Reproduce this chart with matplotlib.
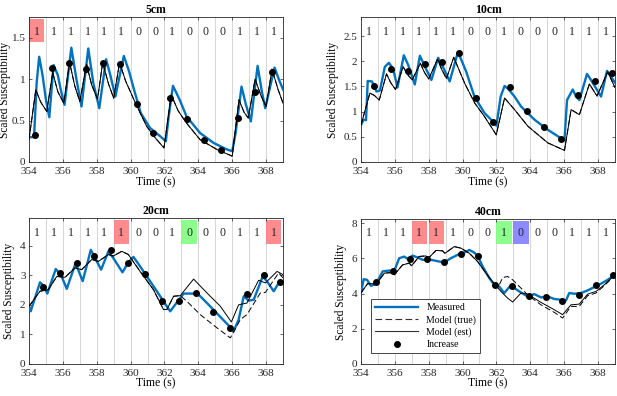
import numpy as np
import matplotlib
matplotlib.use('Agg')
import matplotlib.pyplot as plt
from matplotlib.patches import Rectangle
from matplotlib.lines import Line2D

plt.rcParams['font.family'] = ['Liberation Serif', 'DejaVu Serif']

# bit sequence shown above each panel, one per second
bits = [1, 1, 1, 1, 1, 1, 0, 0, 1, 0, 0, 0, 1, 1, 1]
bit_starts = [354, 355, 356, 357, 358, 359, 360, 361, 362, 363, 364, 365, 366, 367, 368]
xticks = [354, 356, 358, 360, 362, 364, 366, 368]

# ---- 5cm ----
meas_t_5 = [354.0, 354.3, 354.45, 354.6, 354.8, 355.0, 355.2, 355.45, 355.7, 355.9, 356.1, 356.5, 356.8,
            357.1, 357.5, 357.8, 358.15, 358.55, 358.8, 359.1, 359.6, 359.9, 360.2, 360.6, 361.15, 361.75,
            362.08, 362.25, 362.5, 362.9, 363.3, 364.1, 364.9, 365.7, 366.0, 366.2, 366.55, 366.8, 367.1,
            367.5, 367.75, 367.95, 368.5, 368.75, 369.0]
meas_y_5 = [0.30, 0.30, 0.95, 1.27, 1.05, 0.75, 0.54, 1.17, 1.05, 0.85, 0.69, 1.38, 1.0,
            0.67, 1.37, 0.95, 0.65, 1.24, 1.05, 0.79, 1.28, 1.1, 0.875, 0.59, 0.41, 0.31,
            0.25, 0.55, 0.92, 0.75, 0.55, 0.35, 0.23, 0.15, 0.13, 0.35, 0.91, 0.7, 0.49,
            1.16, 0.85, 0.65, 1.14, 1.0, 0.875]
est_t_5 = [354.0, 354.4, 354.7, 355.05, 355.4, 355.7, 356.05, 356.4, 356.7, 357.0, 357.4, 357.7, 358.05,
           358.35, 358.7, 359.0, 359.35, 359.7, 360.2, 360.95, 361.5, 361.97, 362.4, 362.8, 363.3, 364.1,
           365.1, 366.0, 366.4, 366.7, 366.95, 367.35, 367.7, 368.0, 368.35, 368.7, 369.0]
est_y_5 = [0.27, 0.87, 0.72, 0.61, 1.08, 0.85, 0.71, 1.2, 0.92, 0.73, 1.18, 0.93, 0.76,
           1.2, 0.94, 0.77, 1.2, 0.98, 0.75, 0.43, 0.28, 0.17, 0.81, 0.62, 0.47, 0.27,
           0.15, 0.07, 0.75, 0.6, 0.53, 1.0, 0.8, 0.67, 1.12, 0.88, 0.71]
true_t_5, true_y_5 = [], []
dot_t_5 = [354.35, 355.35, 356.35, 357.35, 358.35, 359.35, 360.35, 361.35, 362.35, 363.35, 364.35,
           365.35, 366.35, 367.35, 368.35]
dot_y_5 = [0.32, 1.14, 1.2, 1.125, 1.2, 1.18, 0.70, 0.35, 0.77, 0.52, 0.26, 0.15, 0.53, 0.84, 1.09]

# ---- 10cm ----
meas_t_10 = [354.0, 354.15, 354.3, 354.4, 354.65, 354.92, 355.12, 355.41, 355.65, 355.9, 356.16, 356.53,
             356.8, 357.18, 357.48, 357.8, 358.16, 358.56, 358.9, 359.24, 359.73, 360.22, 360.7, 361.3,
             361.9, 362.0, 362.25, 362.48, 362.7, 363.07, 363.46, 364.25, 365.03, 365.82, 366.02, 366.17,
             366.51, 366.7, 366.9, 367.35, 367.6, 368.18, 368.53, 369.0]
meas_y_10 = [0.73, 0.84, 0.83, 1.61, 1.60, 1.40, 1.42, 1.89, 1.97, 1.85, 1.48, 2.12,
             1.92, 1.54, 2.11, 1.88, 1.63, 2.07, 1.85, 1.60, 2.19, 1.79, 1.30, 0.97,
             0.77, 0.72, 1.30, 1.51, 1.45, 1.30, 1.10, 0.84, 0.64, 0.47, 0.44, 1.23,
             1.44, 1.30, 1.23, 1.75, 1.62, 1.30, 1.81, 1.58]
est_t_10 = [354.0, 354.53, 354.8, 355.08, 355.51, 355.75, 356.04, 356.49, 356.75, 357.02, 357.51, 357.75,
            358.0, 358.52, 358.78, 359.05, 359.48, 360.13, 360.72, 361.3, 361.99, 362.48, 363.07, 363.86,
            365.03, 366.02, 366.41, 366.9, 367.49, 367.94, 368.57, 369.0]
est_y_10 = [0.73, 1.37, 1.32, 1.23, 1.75, 1.58, 1.44, 1.89, 1.74, 1.63, 1.96, 1.78,
            1.65, 2.04, 1.83, 1.66, 2.08, 1.56, 1.17, 0.90, 0.54, 1.27, 1.04, 0.71,
            0.38, 0.23, 1.04, 0.94, 1.55, 1.31, 1.79, 1.48]
true_t_10, true_y_10 = [], []
dot_t_10 = [354.8, 355.8, 356.8, 357.8, 358.8, 359.8, 360.8, 361.8, 362.8, 363.8, 364.8, 365.8,
            366.8, 367.8, 368.8]
dot_y_10 = [1.50, 1.84, 1.81, 1.94, 1.99, 2.16, 1.28, 0.79, 1.48, 1.02, 0.69, 0.46, 1.33, 1.61, 1.76]

# ---- 20cm ----
meas_t_20 = [354.0, 354.1, 354.65, 354.85, 355.08, 355.58, 355.9, 356.23, 356.75, 357.17, 357.65, 358.26,
             358.69, 358.98, 359.52, 359.87, 360.17, 360.56, 360.96, 361.55, 361.94, 362.34, 362.73,
             363.13, 363.72, 363.92, 364.51, 365.3, 365.89, 366.08, 366.38, 366.68, 366.97, 367.27,
             367.8, 368.06, 368.45, 368.75, 369.0]
meas_y_20 = [1.95, 1.78, 2.76, 2.65, 2.38, 3.21, 3.0, 2.54, 3.41, 2.80, 3.86, 3.19,
             3.81, 3.58, 3.10, 3.44, 3.62, 3.30, 2.96, 2.46, 2.12, 1.78, 2.08,
             2.38, 2.38, 2.40, 2.06, 1.59, 1.24, 1.10, 1.50, 2.29, 2.14, 2.17,
             2.96, 2.79, 2.46, 2.74, 2.80]
est_t_20 = [354.0, 354.65, 355.14, 355.64, 356.13, 356.72, 357.11, 357.7, 358.1, 358.69, 358.98, 359.48,
            359.87, 360.56, 361.35, 361.94, 362.14, 362.54, 362.93, 363.72, 364.51, 365.3, 365.95,
            366.38, 366.87, 367.56, 367.96, 368.65, 369.0]
est_y_20 = [1.95, 2.46, 2.51, 2.96, 2.93, 3.25, 3.19, 3.53, 3.47, 3.70, 3.65, 3.81,
            3.70, 3.13, 2.51, 1.84, 1.84, 2.29, 2.31, 2.87, 2.40, 1.95, 1.42,
            2.0, 2.06, 2.83, 2.74, 3.13, 3.02]
# where the true model leaves the estimated one
true_t_20 = [363.32, 364.11, 365.1, 365.89, 366.48, 366.87, 367.66, 367.96, 368.74, 369.0]
true_y_20 = [2.12, 1.67, 1.22, 0.88, 1.50, 1.67, 2.40, 2.42, 3.08, 2.91]
dot_t_20 = [354.85, 355.85, 356.85, 357.85, 358.85, 359.85, 360.85, 361.85, 362.85, 363.85, 364.85,
            365.85, 366.85, 367.85, 368.85]
dot_y_20 = [2.59, 3.06, 3.40, 3.64, 3.86, 3.40, 3.03, 2.14, 2.14, 2.39, 1.77, 1.22, 2.35, 3.0, 2.76]

# ---- 40cm ----
meas_t_40 = [354.0, 354.16, 354.36, 354.59, 354.89, 355.28, 355.67, 355.93, 356.26, 356.56, 356.76,
             357.05, 357.35, 357.64, 358.13, 358.63, 358.92, 359.31, 359.71, 360.1, 360.4, 360.69,
             360.89, 361.19, 361.58, 361.87, 362.17, 362.46, 362.76, 363.06, 363.45, 363.84, 364.24,
             364.63, 365.02, 365.42, 365.81, 366.11, 366.3, 366.6, 366.99, 367.39, 367.78, 368.17,
             368.57, 369.0]
meas_y_40 = [4.03, 4.82, 4.78, 4.44, 4.54, 5.26, 5.31, 5.20, 6.01, 6.10, 5.97,
             6.16, 6.05, 5.92, 5.92, 5.82, 5.77, 6.01, 6.20, 6.33, 6.48, 6.33,
             6.14, 5.54, 4.88, 4.50, 4.40, 4.03, 4.37, 4.31, 4.06, 3.84, 3.97,
             3.78, 3.84, 3.69, 3.65, 3.61, 4.03, 3.99, 4.03, 4.18, 4.37, 4.56,
             4.78, 5.07]
est_t_40 = [354.0, 354.39, 354.79, 354.98, 355.38, 355.87, 355.97, 356.46, 356.85, 356.99, 357.44,
            357.84, 357.98, 358.43, 358.82, 358.96, 359.51, 359.91, 360.4, 360.89, 361.38, 361.87,
            362.27, 362.66, 362.96, 363.45, 363.84, 364.63, 365.42, 365.91, 366.4, 366.89, 367.39,
            367.88, 368.37, 369.0]
est_y_40 = [4.03, 4.56, 4.56, 4.63, 5.16, 5.20, 5.07, 5.63, 5.73, 5.58, 6.11,
            6.14, 6.01, 6.45, 6.43, 6.29, 6.67, 6.58, 6.29, 5.82, 5.16, 4.56,
            4.12, 3.74, 3.52, 4.03, 3.97, 3.50, 3.08, 2.80, 3.36, 3.40, 3.97,
            4.12, 4.50, 5.07]
true_t_40 = [362.17, 362.37, 362.66, 362.96, 363.45, 363.84, 364.63, 365.42, 365.91, 366.4, 366.89,
             367.39, 367.88, 368.37, 369.0]
true_y_40 = [4.50, 4.91, 4.97, 4.78, 4.31, 3.93, 3.36, 2.93, 2.61, 3.27, 3.27,
             3.88, 4.03, 4.45, 5.03]
dot_t_40 = [354.9, 355.9, 356.9, 357.9, 358.9, 359.9, 360.9, 361.9, 362.9, 363.9, 364.9, 365.9,
            366.9, 367.9, 368.9]
dot_y_40 = [4.63, 5.26, 5.95, 5.97, 5.80, 6.26, 6.11, 4.46, 4.42, 3.84, 3.78, 3.59, 3.93, 4.46, 5.03]

red = (1.0, 0.5, 0.5)
green = (0.5, 1.0, 0.5)
blue = (0.5, 0.5, 1.0)

panels = [
    dict(title='5cm', pos=[0.047, 0.591, 0.4117, 0.366], ymax=1.75, yticks=[0, 0.5, 1, 1.5],
         ytl=['0', '0.5', '1', '1.5'], ylab_x=-0.071,
         meas=(meas_t_5, meas_y_5), est=(est_t_5, est_y_5), true=(true_t_5, true_y_5),
         dots=(dot_t_5, dot_y_5), boxes={0: red}),
    dict(title='10cm', pos=[0.585, 0.591, 0.4117, 0.366], ymax=2.88, yticks=[0, 0.5, 1, 1.5, 2, 2.5],
         ytl=['0', '0.5', '1', '1.5', '2', '2.5'], ylab_x=-0.088,
         meas=(meas_t_10, meas_y_10), est=(est_t_10, est_y_10), true=(true_t_10, true_y_10),
         dots=(dot_t_10, dot_y_10), boxes={}),
    dict(title='20cm', pos=[0.047, 0.081, 0.4117, 0.368], ymax=4.93, yticks=[0, 1, 2, 3, 4],
         ytl=['0', '1', '2', '3', '4'], ylab_x=-0.055,
         meas=(meas_t_20, meas_y_20), est=(est_t_20, est_y_20), true=(true_t_20, true_y_20),
         dots=(dot_t_20, dot_y_20), boxes={5: red, 9: green, 14: red}),
    dict(title='40cm', pos=[0.585, 0.081, 0.4117, 0.366], ymax=8.24, yticks=[0, 2, 4, 6, 8],
         ytl=['0', '2', '4', '6', '8'], ylab_x=-0.054,
         meas=(meas_t_40, meas_y_40), est=(est_t_40, est_y_40), true=(true_t_40, true_y_40),
         dots=(dot_t_40, dot_y_40), boxes={3: red, 4: red, 8: green, 9: blue}),
]

fig = plt.figure(figsize=(6.17, 3.96), dpi=100)

for p in panels:
    ax = fig.add_axes(p['pos'])
    top = p['ymax']

    # light vertical lines between bits
    for s in bit_starts[1:]:
        ax.axvline(s, color='#d6d6d6', lw=0.7, zorder=0)

    # bit labels and highlight boxes
    for i, (s, b) in enumerate(zip(bit_starts, bits)):
        if i in p['boxes']:
            ax.add_patch(Rectangle((s, 0.825 * top), 0.9, 0.16 * top, facecolor=p['boxes'][i],
                                   edgecolor='none', alpha=0.9, zorder=1))
        ax.text(s + 0.45, 0.9 * top, str(b), ha='center', va='center', fontsize=8.5,
                color='#222222', zorder=2)

    # true model: same as estimate until it departs
    et, ey = p['est']
    tt, ty = p['true']
    if tt:
        keep = [k for k in range(len(et)) if et[k] < tt[0]]
        tt = [et[k] for k in keep] + tt
        ty = [ey[k] for k in keep] + ty
    else:
        tt, ty = et, ey

    ax.plot(p['meas'][0], p['meas'][1], color='#0072BD', lw=1.7, zorder=3)
    ax.plot(tt, ty, color='black', lw=0.7, ls=(0, (6, 3)), zorder=4)
    ax.plot(et, ey, color='black', lw=0.7, zorder=4)
    ax.plot(p['dots'][0], p['dots'][1], 'o', color='black', ms=4, zorder=5)

    ax.set_xlim(354, 369)
    ax.set_ylim(0, top)
    ax.set_xticks(xticks)
    ax.set_xticklabels([str(x) for x in xticks])
    ax.set_yticks(p['yticks'])
    ax.set_yticklabels(p['ytl'])
    ax.tick_params(direction='in', length=2.5, width=0.5, labelsize=8, top=True, right=True,
                   colors='#262626')
    ax.tick_params(axis='x', pad=3.5)
    ax.tick_params(axis='y', pad=2.5)
    for sp in ax.spines.values():
        sp.set_color('#262626')
        sp.set_linewidth(0.6)
    ax.set_xlabel('Time (s)', fontsize=8.5, labelpad=0)
    ax.set_ylabel('Scaled Susceptibility', fontsize=8.3)
    ax.yaxis.set_label_coords(p['ylab_x'], 0.5)
    ax.set_title(p['title'], fontsize=8.5, fontweight='bold', pad=3)

    if p['title'] == '40cm':
        handles = [Line2D([], [], color='#0072BD', lw=1.7),
                   Line2D([], [], color='#333333', lw=0.8, ls=(0, (6, 3))),
                   Line2D([], [], color='#333333', lw=0.8),
                   Line2D([], [], ls='none', marker='o', color='black', ms=4)]
        leg = ax.legend(handles, ['Measured', 'Model (true)', 'Model (est)', 'Increase'],
                        loc='lower left', bbox_to_anchor=(0.039, 0.076), borderaxespad=0,
                        fontsize=7, handlelength=4.5, fancybox=False, framealpha=1,
                        edgecolor='#262626', labelspacing=0.3, borderpad=0.4)
        leg.get_frame().set_linewidth(0.6)
        leg.set_zorder(10)

fig.savefig('out.png', dpi=100)
